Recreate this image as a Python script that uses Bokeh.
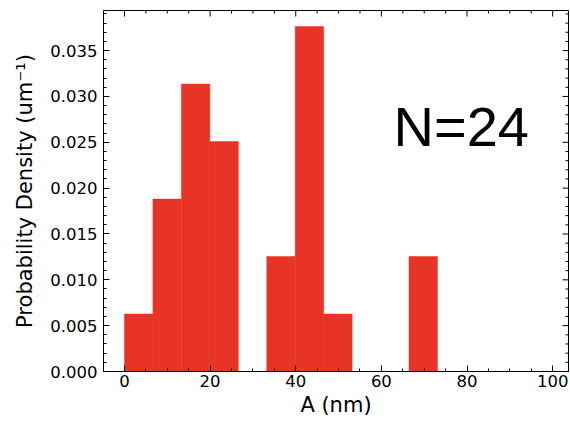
import numpy as np
from bokeh.plotting import figure
from bokeh.models import Range1d, NumeralTickFormatter, Label, FixedTicker
from bokeh.embed import file_html
from bokeh.resources import INLINE

# data
counts = [1, 3, 5, 4, 0, 2, 6, 1, 0, 0, 2]
bin_min = 0.0
bin_max = 73.1
n_total = 24
x_ticks = [0, 20, 40, 60, 80, 100]
x_minor = [5, 10, 15, 25, 30, 35, 45, 50, 55, 65, 70, 75, 85, 90, 95]
y_ticks = [0.000, 0.005, 0.010, 0.015, 0.020, 0.025, 0.030, 0.035]
y_minor = [round(0.001 * i, 3) for i in range(40) if i % 5 != 0]
annot = "N=24"

edges = np.linspace(bin_min, bin_max, len(counts) + 1)
width = edges[1] - edges[0]
density = np.array(counts) / (n_total * width)

RED = "#E83426"
X0, X1 = -4.9, 103.7
Y0, Y1 = 0.0, 0.039375

p = figure(width=570, height=420, output_backend="svg", toolbar_location=None,
           x_range=Range1d(X0, X1), y_range=Range1d(Y0, Y1),
           min_border_left=103, min_border_top=10, min_border_bottom=49, min_border_right=2)
p.grid.visible = False
p.outline_line_color = "black"
p.outline_line_width = 1
p.background_fill_color = "white"

p.quad(left=edges[:-1], right=edges[1:], bottom=0, top=density,
       fill_color=RED, line_color=RED, line_width=0.5)

# ticks mirrored on the top and right edges (clipped to the frame, so only the inner half shows)
p.scatter(x=x_ticks, y=[Y1] * len(x_ticks), marker="dash", angle=np.pi / 2, size=12,
          line_color="black", line_width=1)
p.scatter(x=x_minor, y=[Y1] * len(x_minor), marker="dash", angle=np.pi / 2, size=6,
          line_color="black", line_width=1)
p.scatter(x=[X1] * len(y_ticks), y=y_ticks, marker="dash", size=12,
          line_color="black", line_width=1)
p.scatter(x=[X1] * len(y_minor), y=y_minor, marker="dash", size=6,
          line_color="black", line_width=1)

xa = p.below[0]
ya = p.left[0]
xa.ticker = FixedTicker(ticks=x_ticks, minor_ticks=x_minor)
ya.ticker = FixedTicker(ticks=y_ticks, minor_ticks=y_minor)
ya.formatter = NumeralTickFormatter(format="0.000")
xa.axis_label = "A (nm)"
ya.axis_label = "Probability Density (um⁻¹)"

for ax in (xa, ya):
    ax.major_tick_in = 6
    ax.major_tick_out = 0
    ax.minor_tick_in = 3
    ax.minor_tick_out = 0
    ax.axis_line_color = "black"
    ax.major_tick_line_color = "black"
    ax.minor_tick_line_color = "black"
    ax.major_label_text_font = "DejaVu Sans"
    ax.major_label_text_font_size = "16.5px"
    ax.major_label_text_color = "black"
    ax.axis_label_text_font = "DejaVu Sans"
    ax.axis_label_text_font_size = "21px"
    ax.axis_label_text_font_style = "normal"
    ax.axis_label_text_color = "black"

xa.major_label_standoff = 3
xa.axis_label_standoff = 3
ya.major_label_standoff = 6
ya.axis_label_standoff = 10

p.add_layout(Label(x=290, y=214, x_units="screen", y_units="screen", text=annot,
                   text_font="Liberation Sans", text_font_size="56px", text_color="black"))

open("out.html", "w").write(file_html(p, INLINE))
